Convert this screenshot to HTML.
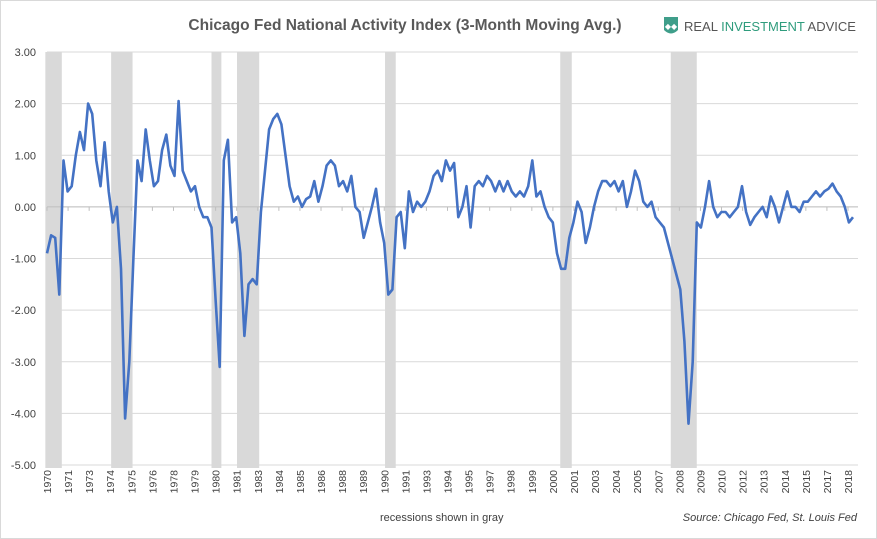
<!DOCTYPE html>
<html><head><meta charset="utf-8"><style>
body{margin:0;background:#fff;font-family:"Liberation Sans",sans-serif;}
svg{display:block}
</style></head><body>
<svg id="chart" width="877" height="539">
<rect x="0.5" y="0.5" width="876" height="538" fill="#fff" stroke="#d9d9d9"/>
<text x="405" y="30" text-anchor="middle" font-size="15.5" font-weight="bold" fill="#595959">Chicago Fed National Activity Index (3-Month Moving Avg.)</text>
<g>
<path d="M664 17 L678 17 L678 30 Q671 37 664 30 Z" fill="#3f9e8a"/>
<text x="671" y="29" text-anchor="middle" font-size="8" fill="#fff">◆◆</text>
<text x="684" y="31" font-size="13" fill="#555">REAL <tspan fill="#2f9c7d">INVESTMENT</tspan> ADVICE</text>
</g>
<g id="grid"></g><g id="rec"></g><g id="axes"></g><g id="series"></g>
<text x="380" y="521" font-size="11" fill="#404040">recessions shown in gray</text>
<text x="857" y="521" text-anchor="end" font-size="11" font-style="italic" fill="#404040">Source: Chicago Fed, St. Louis Fed</text>
</svg>
<script>
const startYear=1970;
const stepYears=0.25;
const values=[
-0.9,-0.55,-0.6,-1.7, 0.9,0.3,0.4,1.0, 1.45,1.1,2.0,1.8, 0.9,0.4,1.25,0.3,
-0.3,0.0,-1.2,-4.1, -3.0,-1.0,0.9,0.5, 1.5,0.9,0.4,0.5, 1.1,1.4,0.8,0.6,
2.05,0.7,0.5,0.3, 0.4,0.0,-0.2,-0.2, -0.4,-1.8,-3.1,0.9, 1.3,-0.3,-0.2,-0.9,
-2.5,-1.5,-1.4,-1.5, -0.1,0.7,1.5,1.7, 1.8,1.6,1.0,0.4, 0.1,0.2,0.0,0.15,
0.2,0.5,0.1,0.4, 0.8,0.9,0.8,0.4, 0.5,0.3,0.6,0.0, -0.1,-0.6,-0.3,0.0,
0.35,-0.3,-0.7,-1.7, -1.6,-0.2,-0.1,-0.8, 0.3,-0.1,0.1,0.0, 0.1,0.3,0.6,0.7,
0.5,0.9,0.7,0.85, -0.2,0.0,0.4,-0.4, 0.4,0.5,0.4,0.6, 0.5,0.3,0.5,0.3,
0.5,0.3,0.2,0.3, 0.2,0.4,0.9,0.2, 0.3,0.0,-0.2,-0.3, -0.9,-1.2,-1.2,-0.6,
-0.3,0.1,-0.1,-0.7, -0.4,0.0,0.3,0.5, 0.5,0.4,0.5,0.3, 0.5,0.0,0.3,0.7,
0.5,0.1,0.0,0.1, -0.2,-0.3,-0.4,-0.7, -1.0,-1.3,-1.6,-2.6, -4.2,-3.0,-0.3,-0.4,
0.0,0.5,0.0,-0.2, -0.1,-0.1,-0.2,-0.1, 0.0,0.4,-0.1,-0.35, -0.2,-0.1,0.0,-0.2,
0.2,0.0,-0.3,0.0, 0.3,0.0,0.0,-0.1, 0.1,0.1,0.2,0.3, 0.2,0.3,0.35,0.45,
0.3,0.2,0.0,-0.3, -0.2];
const recStarts=[1969.9,1973.9,1980.0,1981.55,1990.55,2001.2,2007.92];
const recEnds=[1970.9,1975.2,1980.6,1982.9,1991.2,2001.9,2009.5];
const yTicks=[3,2,1,0,-1,-2,-3,-4,-5];
const xLabels=["1970","1971","1973","1974","1975","1976","1978","1979","1980","1981","1983","1984","1985","1986","1988","1989","1990","1991","1993","1994","1995","1997","1998","1999","2000","2001","2003","2004","2005","2007","2008","2009","2010","2012","2013","2014","2015","2017","2018"];

const NS="http://www.w3.org/2000/svg";
const L=47,R=858,T=52,B=465;
const x=t=>L+(t-1970)*16.45;
const y=v=>T+(3-v)*(B-T)/8;
function mk(tag,a,p){const e=document.createElementNS(NS,tag);for(const k in a)e.setAttribute(k,a[k]);p.appendChild(e);return e;}
const grid=document.getElementById('grid'),rec=document.getElementById('rec'),axes=document.getElementById('axes'),ser=document.getElementById('series');
yTicks.forEach(v=>{
 const g=mk('line',{x1:L,x2:R,y1:y(v),y2:y(v),stroke:'#d9d9d9','stroke-width':1},grid);
 
 
 const t=mk('text',{x:36,y:y(v)+4,'text-anchor':'end','font-size':11,fill:'#404040'},axes);
 t.textContent=v.toFixed(2);
 
 
});
recStarts.forEach((s,i)=>{
 const r=mk('rect',{x:x(s),y:T,width:x(recEnds[i])-x(s),height:B-T+3,fill:'#d9d9d9'},rec);
 
 
});
const za=mk('line',{x1:L,x2:R,y1:y(0),y2:y(0),stroke:'#bfbfbf'},axes);


xLabels.forEach((lb,i)=>{
 const px=L+i*(848-L)/(xLabels.length-1);
 const tk=mk('line',{x1:px,x2:px,y1:y(0),y2:y(0)+4,stroke:'#bfbfbf'},axes);
 
 
 const t=mk('text',{x:0,y:0,'text-anchor':'end','font-size':10.5,fill:'#404040',transform:`translate(${px+4},470) rotate(-90)`},axes);
 t.textContent=lb;
 
 
});
const pts=values.map((v,i)=>x(startYear+i*stepYears).toFixed(1)+','+y(v).toFixed(1)).join(' ');
const pl=mk('polyline',{points:pts,fill:'none',stroke:'#4472c4','stroke-width':2.6,'stroke-linejoin':'round'},ser);


</script>
</body></html>
